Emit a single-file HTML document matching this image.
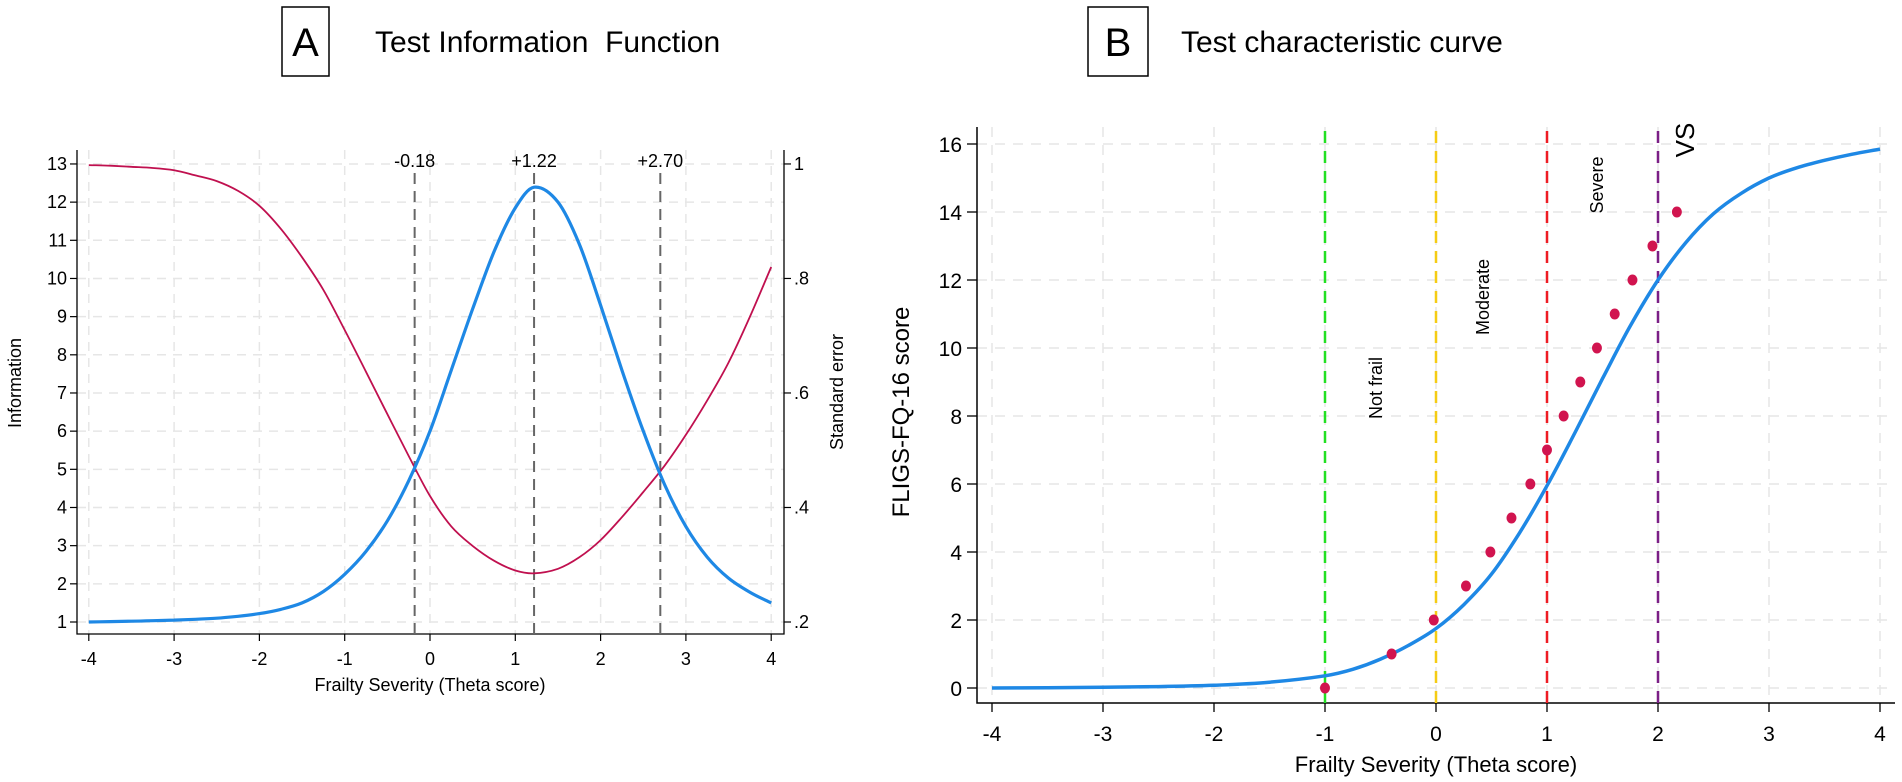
<!DOCTYPE html>
<html><head><meta charset="utf-8"><style>
html,body{margin:0;padding:0;background:#fff;}
svg{display:block;font-family:"Liberation Sans",sans-serif;}
</style></head><body>
<svg id="fig" width="1902" height="782" viewBox="0 0 1902 782" xmlns="http://www.w3.org/2000/svg">
  <g>
    <rect x="282" y="7" width="47" height="69" fill="none" stroke="#000" stroke-width="1.5"/>
    <text x="305.5" y="56" font-size="40" text-anchor="middle">A</text>
    <text x="375" y="52" font-size="30" xml:space="preserve">Test Information  Function</text>
  </g>
  <g>
    <rect x="1088" y="7" width="60" height="69" fill="none" stroke="#000" stroke-width="1.5"/>
    <text x="1118" y="56" font-size="40" text-anchor="middle">B</text>
    <text x="1181" y="52" font-size="30">Test characteristic curve</text>
  </g>
  <g id="pa"></g>
  <g id="pb"></g>
</svg>
<script>
// ---------- Panel A data ----------
const thetaA = [-4,-3.75,-3.5,-3.25,-3,-2.75,-2.5,-2.25,-2,-1.75,-1.5,-1.25,-1,-0.75,-0.5,-0.25,0,0.25,0.5,0.75,1,1.22,1.5,1.75,2,2.25,2.5,2.75,3,3.25,3.5,3.75,4];
const infoA = [1.0,1.01,1.02,1.035,1.05,1.07,1.1,1.15,1.22,1.33,1.5,1.8,2.25,2.85,3.65,4.7,6.0,7.6,9.2,10.7,11.85,12.39,12.0,10.9,9.3,7.6,6.0,4.6,3.5,2.7,2.15,1.78,1.5];
const seA = [0.998,0.997,0.995,0.993,0.989,0.980,0.970,0.953,0.927,0.887,0.837,0.780,0.710,0.637,0.563,0.490,0.420,0.367,0.333,0.307,0.290,0.285,0.293,0.313,0.343,0.383,0.427,0.473,0.527,0.587,0.653,0.733,0.820];
const refLinesA = [-0.18, 1.22, 2.70];
const refLabelsA = ["-0.18", "+1.22", "+2.70"];
const xTicksA = [-4,-3,-2,-1,0,1,2,3,4];
const yTicksA = [1,2,3,4,5,6,7,8,9,10,11,12,13];
const seTicks = [0.2,0.4,0.6,0.8,1];
const seTickLabels = [".2",".4",".6",".8","1"];
// ---------- Panel B data ----------
const thetaB = [-4,-3.5,-3,-2.5,-2,-1.5,-1,-0.75,-0.5,-0.25,0,0.25,0.5,0.75,1,1.25,1.5,1.75,2,2.25,2.5,2.75,3,3.25,3.5,3.75,4];
const tccB = [0,0.01,0.02,0.04,0.08,0.17,0.36,0.55,0.85,1.25,1.75,2.45,3.35,4.55,5.95,7.5,9.1,10.65,12.0,13.1,13.95,14.55,15.0,15.3,15.52,15.7,15.85];
const dotTheta = [-1,-0.4,-0.02,0.27,0.49,0.68,0.85,1.0,1.15,1.3,1.45,1.61,1.77,1.95,2.17];
const dotScore = [0,1,2,3,4,5,6,7,8,9,10,11,12,13,14];
const cutTheta = [-1,0,1,2];
const cutColors = ["#22e022","#f5cc14","#ee1c24","#7b1f86"];
const xTicksB = [-4,-3,-2,-1,0,1,2,3,4];
const yTicksB = [0,2,4,6,8,10,12,14,16];

const NS="http://www.w3.org/2000/svg";
function mk(parent, tag, attrs, txt){
  const e=document.createElementNS(NS,tag);
  for(const k in attrs) e.setAttribute(k,attrs[k]);
  if(txt!==undefined) e.textContent=txt;
  parent.appendChild(e); return e;
}
function smooth(pts){
  const n=pts.length, m=[];
  for(let i=0;i<n;i++){
    const a=pts[Math.max(0,i-1)], b=pts[Math.min(n-1,i+1)];
    m.push((b[1]-a[1])/(b[0]-a[0]));
  }
  let d="M"+pts[0][0].toFixed(1)+","+pts[0][1].toFixed(1);
  for(let i=0;i<n-1;i++){
    const p1=pts[i],p2=pts[i+1],dx=(p2[0]-p1[0])/3;
    d+=" C"+(p1[0]+dx).toFixed(1)+","+(p1[1]+m[i]*dx).toFixed(1)+" "+(p2[0]-dx).toFixed(1)+","+(p2[1]-m[i+1]*dx).toFixed(1)+" "+p2[0].toFixed(1)+","+p2[1].toFixed(1);
  }
  return d;
}
const grid="#e6e6e6";

// ---------- Panel A ----------
(function(){
  const g=document.getElementById('pa');
  const xA=t=>430+85.3*t;
  const yA=v=>622-(v-1)*38.17;
  const ySE=s=>yA(1+(s-0.2)/0.8*12);
  const L=77,R=784,T=150,B=634;
  xTicksA.forEach(t=>{
    const e=mk(g,'line',{x1:xA(t),x2:xA(t),y1:T,y2:B,stroke:grid,'stroke-width':1.5,'stroke-dasharray':'9 7'});
    
    
  });
  yTicksA.forEach(v=>{
    const e=mk(g,'line',{x1:L,x2:R,y1:yA(v),y2:yA(v),stroke:grid,'stroke-width':1.5,'stroke-dasharray':'9 7'});
    
    
  });
  let e=mk(g,'path',{d:`M${L},${T} V${B} H${R} V${T}`,fill:'none',stroke:'#000','stroke-width':1.3});
  
  
  xTicksA.forEach(t=>{
    mk(g,'line',{x1:xA(t),x2:xA(t),y1:B,y2:B+7,stroke:'#000','stroke-width':1.2});
    const tx=mk(g,'text',{x:xA(t),y:665,'font-size':18,'text-anchor':'middle'},String(t));
    
    
  });
  yTicksA.forEach(v=>{
    mk(g,'line',{x1:L-7,x2:L,y1:yA(v),y2:yA(v),stroke:'#000','stroke-width':1.2});
    const tx=mk(g,'text',{x:L-10,y:yA(v)+6,'font-size':18,'text-anchor':'end'},String(v));
    
    
  });
  seTicks.forEach((s,i)=>{
    mk(g,'line',{x1:R,x2:R+7,y1:ySE(s),y2:ySE(s),stroke:'#000','stroke-width':1.2});
    const tx=mk(g,'text',{x:R+10,y:ySE(s)+6,'font-size':18},seTickLabels[i]);
    
    
  });
  refLinesA.forEach((t,i)=>{
    const l=mk(g,'line',{x1:xA(t),x2:xA(t),y1:173,y2:B,stroke:'#666','stroke-width':2,'stroke-dasharray':'11 7'});
    
    
    const tx=mk(g,'text',{x:xA(t),y:167,'font-size':18,'text-anchor':'middle'},refLabelsA[i]);
    
    
  });
  const se=mk(g,'path',{d:smooth(thetaA.map((t,i)=>[xA(t),ySE(seA[i])])),fill:'none',stroke:'#c0104f','stroke-width':1.8});
  
  
  const inf=mk(g,'path',{d:smooth(thetaA.map((t,i)=>[xA(t),yA(infoA[i])])),fill:'none',stroke:'#1e88e5','stroke-width':3.2});
  
  
  let tt=mk(g,'text',{x:430,y:691,'font-size':18,'text-anchor':'middle'},'Frailty Severity (Theta score)');
  
  
  tt=mk(g,'text',{x:0,y:0,'font-size':18,'text-anchor':'middle',transform:'translate(21,383) rotate(-90)'},'Information');
  
  
  tt=mk(g,'text',{x:0,y:0,'font-size':18,'text-anchor':'middle',transform:'translate(843,392) rotate(-90)'},'Standard error');
  
  
})();

// ---------- Panel B ----------
(function(){
  const g=document.getElementById('pb');
  const xB=t=>1436+111*t;
  const yB=v=>688-34*v;
  const L=977,R=1895,T=127,B=703;
  xTicksB.forEach(t=>{
    const e=mk(g,'line',{x1:xB(t),x2:xB(t),y1:T,y2:B,stroke:grid,'stroke-width':1.5,'stroke-dasharray':'10 8'});
    
    
  });
  yTicksB.forEach(v=>{
    const e=mk(g,'line',{x1:L,x2:R,y1:yB(v),y2:yB(v),stroke:grid,'stroke-width':1.5,'stroke-dasharray':'10 8'});
    
    
  });
  let e=mk(g,'path',{d:`M${L},${T} V${B} H${R}`,fill:'none',stroke:'#000','stroke-width':1.5});
  
  
  xTicksB.forEach(t=>{
    mk(g,'line',{x1:xB(t),x2:xB(t),y1:B,y2:B+9,stroke:'#000','stroke-width':1.3});
    const tx=mk(g,'text',{x:xB(t),y:741,'font-size':21,'text-anchor':'middle'},String(t));
    
    
  });
  yTicksB.forEach(v=>{
    mk(g,'line',{x1:L-10,x2:L,y1:yB(v),y2:yB(v),stroke:'#000','stroke-width':1.3});
    const tx=mk(g,'text',{x:L-15,y:yB(v)+8,'font-size':21,'text-anchor':'end'},String(v));
    
    
  });
  cutTheta.forEach((t,i)=>{
    const l=mk(g,'line',{x1:xB(t),x2:xB(t),y1:131,y2:B,stroke:cutColors[i],'stroke-width':2.5,'stroke-dasharray':'12 8'});
    
    
  });
  const labs=[["Not frail",1382,388,18],["Moderate",1489,297,18],["Severe",1603,185,18],["VS",1694,140,26]];
  labs.forEach(a=>{
    const tx=mk(g,'text',{x:0,y:0,'font-size':a[3],'text-anchor':'middle',transform:`translate(${a[1]},${a[2]}) rotate(-90)`},a[0]);
    
    
  });
  const c=mk(g,'path',{d:smooth(thetaB.map((t,i)=>[xB(t),yB(tccB[i])])),fill:'none',stroke:'#1e88e5','stroke-width':3.5});
  
  
  dotTheta.forEach((t,i)=>{
    const d=mk(g,'ellipse',{cx:xB(t),cy:yB(dotScore[i]),rx:5,ry:5.5,fill:'#d1144f'});
    
    
  });
  let tt=mk(g,'text',{x:1436,y:772,'font-size':22,'text-anchor':'middle'},'Frailty Severity (Theta score)');
  
  
  tt=mk(g,'text',{x:0,y:0,'font-size':24,'text-anchor':'middle',transform:'translate(909,412) rotate(-90)'},'FLIGS-FQ-16 score');
  
  
})();
</script>
</body></html>
